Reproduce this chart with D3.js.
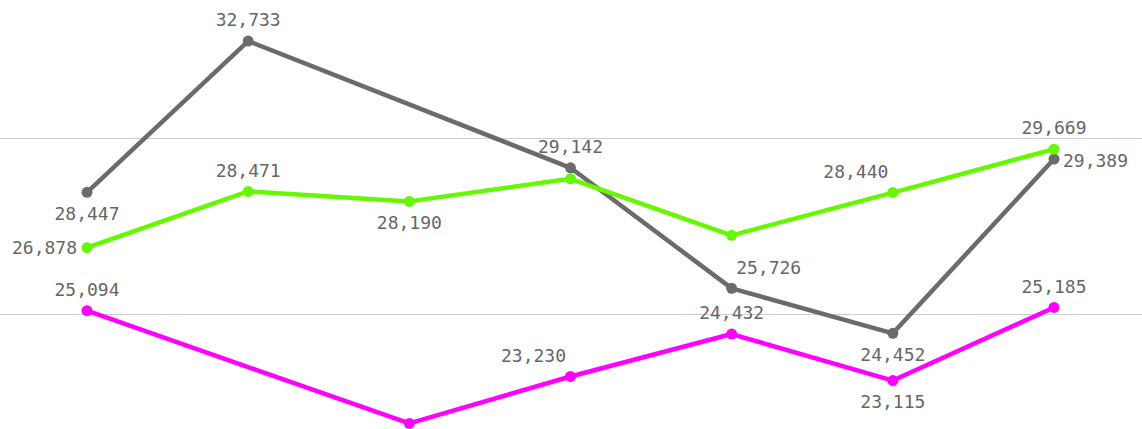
<!DOCTYPE html>
<html>
<head>
<meta charset="utf-8">
<script src="https://cdn.jsdelivr.net/npm/d3@7"></script>
<style>
  body { margin: 0; background: #fff; }
  svg { display: block; }
</style>
</head>
<body>
<div id="chart"></div>
<script>
const width = 1142;
const height = 429;

// category axis is hidden in the picture, so these are placeholders
const categories = ['1', '2', '3', '4', '5', '6', '7'];
const grayValues = [28447, 32733, null, 29142, 25726, 24452, 29389];
const greenValues = [26878, 28471, 28190, 28829, 27229, 28440, 29669];
const magentaValues = [25094, null, 21900, 23230, 24432, 23115, 25185];
const gridTicks = [25000, 30000];

// where each value label sits: 't' top, 'b' bottom, 'l' left, 'r' right, '' none
const grayLabels = ['b', 't', '', 't', 'tr', 'b', 'r'];
const greenLabels = ['l', 't', 'b', '', '', 'tl', 't'];
const magentaLabels = ['t', '', '', 'tl', 't', 'b', 't'];

const series = [
    { values: grayValues, labels: grayLabels, color: '#6b6b6b' },
    { values: greenValues, labels: greenLabels, color: '#66f800' },
    { values: magentaValues, labels: magentaLabels, color: '#ff00ff' }
];

const x = d3.scalePoint()
    .domain(categories)
    .range([87, 1054]);

const y = d3.scaleLinear()
    .domain([25000, 30000])
    .range([314, 137.5]);

const svg = d3.select('#chart')
    .append('svg')
    .attr('width', width)
    .attr('height', height);

svg.append('g')
    .selectAll('line')
    .data(gridTicks)
    .enter()
    .append('line')
    .attr('x1', 0)
    .attr('x2', width)
    .attr('y1', d => Math.round(y(d)) + 0.5)
    .attr('y2', d => Math.round(y(d)) + 0.5)
    .attr('stroke', '#cfcfcf')
    .attr('stroke-width', 1);

const line = d3.line()
    .defined(d => d.v !== null)
    .x(d => x(d.c))
    .y(d => y(d.v));

const fmt = d3.format(',');

const offsets = {
    t: [0, -21, 'middle'],
    b: [0, 21, 'middle'],
    l: [-10, 0, 'end'],
    r: [9, 2, 'start'],
    tr: [37, -21, 'middle'],
    tl: [-37, -21, 'middle']
};

series.forEach(s => {
    const pts = categories.map((c, i) => ({ c, v: s.values[i], pos: s.labels[i] }))
        .filter(d => d.v !== null);
    s.pts = pts;

    svg.append('path')
        .datum(pts)
        .attr('d', line)
        .attr('fill', 'none')
        .attr('stroke', s.color)
        .attr('stroke-width', 4.5)
        .attr('stroke-linejoin', 'round');

    svg.append('g')
        .selectAll('circle')
        .data(pts)
        .enter()
        .append('circle')
        .attr('cx', d => x(d.c))
        .attr('cy', d => y(d.v))
        .attr('r', 5.5)
        .attr('fill', s.color);
});

series.forEach(s => {
    svg.append('g')
        .selectAll('text')
        .data(s.pts.filter(d => d.pos))
        .enter()
        .append('text')
        .attr('x', d => x(d.c) + offsets[d.pos][0])
        .attr('y', d => y(d.v) + offsets[d.pos][1])
        .attr('dy', '0.35em')
        .attr('text-anchor', d => offsets[d.pos][2])
        .style('font-family', '"DejaVu Sans Mono", monospace')
        .style('font-size', '18px')
        .attr('fill', '#666666')
        .text(d => fmt(d.v));
});
</script>
</body>
</html>
